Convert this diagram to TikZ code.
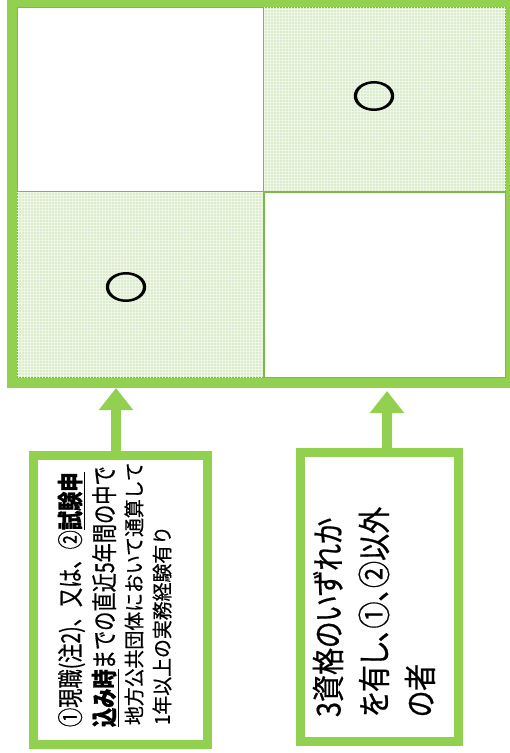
\documentclass[tikz,border=0pt]{standalone}
\usepackage{fontspec}
\newfontfamily\cjk{Noto Sans CJK JP}
\newfontfamily\cjkm[FakeBold=4]{Noto Sans CJK JP}
\newfontfamily\cjka[FakeStretch=0.74, FakeBold=0.5]{Noto Sans CJK JP}
\newfontfamily\cjkc[FakeStretch=0.92, FakeBold=0.5]{Noto Sans CJK JP}
\newfontfamily\cjkd[FakeStretch=0.82, FakeBold=0.6, RawFeature=+palt]{Noto Sans CJK JP}
\usetikzlibrary{arrows.meta,patterns}
\definecolor{frameg}{RGB}{146,208,80}
\definecolor{lineg}{RGB}{122,188,72}
\definecolor{cellg}{RGB}{218,236,203}
\tikzset{
  cellbox/.style={draw=lineg, line width=1.2pt, inner sep=0pt, outer sep=0pt},
  shadedcell/.style={cellbox, fill=cellg, postaction={pattern=grid, pattern color=white!55!cellg}},
  framebox/.style={draw=frameg, line width=10pt, inner sep=0pt},
  textbox/.style={draw=frameg, line width=9pt, fill=white, inner sep=0pt},
  upline/.style={draw=frameg, line width=10pt, -{Triangle[width=33pt,length=22pt]}},
  vtext/.style={rotate=90, anchor=base west, inner sep=0pt, outer sep=0pt},
  cellmark/.style={font=\cjkm\fontsize{43}{43}\selectfont, yscale=0.74, inner sep=0pt}
}
\begin{document}
\begin{tikzpicture}[x=1pt,y=-1pt]
\useasboundingbox (0,0) rectangle (510,753);
\clip (0,0) rectangle (510,753);
% table cells
\node[cellbox, minimum width=247pt, minimum height=185pt, fill=white] (c11) at (140.5,99.5) {};
\node[shadedcell, minimum width=242pt, minimum height=185pt] (c12) at (385,99.5) {};
\node[shadedcell, minimum width=247pt, minimum height=186pt] (c21) at (140.5,285) {};
\node[cellbox, minimum width=242pt, minimum height=186pt, fill=white] (c22) at (385,285) {};
% outer frame
\node[framebox, minimum width=499pt, minimum height=381pt] (frame) at (261.5,192.5) {};
% marks
\node[cellmark] (m12) at (374,96) {○};
\node[cellmark] (m21) at (126,287) {○};
% arrow tips
\coordinate (t1) at (116,388);
\coordinate (t2) at (387,391);
% boxes
\node[textbox, minimum width=174pt, minimum height=289pt] (b1) at (120,600) {};
\node[textbox, minimum width=157.5pt, minimum height=288.5pt] (b2) at (379.25,596.75) {};
\draw[upline] (t1 |- b1.north) -- (t1);
\draw[upline] (t2 |- b2.north) -- (t2);
% box 1 text
\node[vtext, font=\cjka\fontsize{26}{26}\selectfont] (b1l1) at (80,727) {①現職(注2)、又は、②\underline{\bfseries 試験申}};
\node[vtext, font=\cjka\fontsize{26}{26}\selectfont] (b1l2) at (114,727) {\underline{\bfseries 込み時}までの直近5年間の中で};
\node[vtext, font=\cjkc\fontsize{20.5}{20.5}\selectfont] (b1l3) at (141.8,725) {地方公共団体において通算して};
\node[vtext, font=\cjkc\fontsize{20.5}{20.5}\selectfont] (b1l4) at (169.8,725) {1年以上の実務経験有り};
% box 2 text
\node[vtext, font=\cjkd\fontsize{33}{33}\selectfont] (b2l1) at (340.5,717) {3資格のいずれか};
\node[vtext, font=\cjkd\fontsize{33}{33}\selectfont] (b2l2) at (386.5,717) {を有し、①、②以外};
\node[vtext, font=\cjkd\fontsize{33}{33}\selectfont] (b2l3) at (432.5,717) {の者};
\end{tikzpicture}
\end{document}
